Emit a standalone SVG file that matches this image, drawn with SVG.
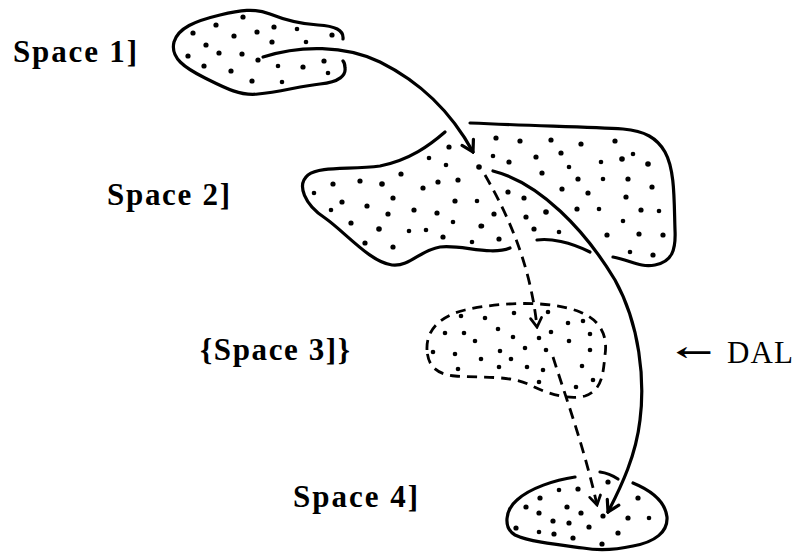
<svg xmlns="http://www.w3.org/2000/svg" width="799" height="552" viewBox="0 0 799 552">
<style>
.ol{fill:none;stroke:#000;stroke-width:3.2;stroke-linecap:round;stroke-linejoin:round}
.dl{fill:none;stroke:#000;stroke-width:2.8;stroke-dasharray:10 7;stroke-linecap:butt}
.ar{fill:none;stroke:#000;stroke-width:3.2;stroke-linecap:round}
.ad{fill:none;stroke:#000;stroke-width:2.8;stroke-dasharray:11 7}
.lbl{font-family:"Liberation Serif","Times New Roman",serif;font-size:31px;font-weight:bold;fill:#000}
.dots circle{fill:#000}
</style>
<defs>
<marker id="head" markerUnits="userSpaceOnUse" viewBox="-13 -9 15 18" refX="0" refY="0" markerWidth="15" markerHeight="18" orient="auto">
<path d="M-11,-6.5 L0,0 L-11,6.5" fill="none" stroke="#000" stroke-width="3.2" stroke-linejoin="miter" stroke-linecap="round"/>
</marker>
<marker id="headd" markerUnits="userSpaceOnUse" viewBox="-12 -8 14 16" refX="0" refY="0" markerWidth="14" markerHeight="16" orient="auto">
<path d="M-9,-5.5 L0,0 L-9,5.5" fill="none" stroke="#000" stroke-width="2.8" stroke-linejoin="miter" stroke-linecap="round"/>
</marker>
</defs>
<rect width="799" height="552" fill="#fff"/>

<g id="space1">
<path class="ol" d="M343,39 C344,30 335,26 318,25 C300,24 285,20 270,14 C255,8 240,10 220,15 C195,21 178,28 174,42 C170,58 185,68 205,78 C225,88 240,96 258,94 C280,92 300,86 320,84 C340,82 346,75 345,68 C345,64 344,62 343,61"/>
<g class="dots">
<circle cx="216" cy="25" r="2.6"/><circle cx="243" cy="17" r="2.6"/><circle cx="193" cy="33" r="2.6"/><circle cx="234" cy="36" r="2.6"/><circle cx="257" cy="32" r="2.6"/><circle cx="274" cy="27" r="2.6"/><circle cx="297" cy="29" r="2.3"/><circle cx="332" cy="35" r="2.6"/><circle cx="206" cy="45" r="2.6"/><circle cx="272" cy="42" r="2.6"/><circle cx="306" cy="42" r="2.3"/><circle cx="188" cy="56" r="2.6"/><circle cx="219" cy="53" r="2.6"/><circle cx="242" cy="54" r="2.6"/><circle cx="258" cy="60" r="2.6"/><circle cx="278" cy="66" r="2.3"/><circle cx="303" cy="67" r="2.6"/><circle cx="324" cy="61" r="2.6"/><circle cx="328" cy="73" r="2.3"/><circle cx="204" cy="66" r="2.6"/><circle cx="231" cy="71" r="2.6"/><circle cx="252" cy="81" r="2.6"/><circle cx="282" cy="82" r="2.3"/>
</g>
<text class="lbl" x="13" y="62" textLength="124" lengthAdjust="spacing">Space 1]</text>
</g>

<g id="space2">
<path class="ol" d="M445,132 C430,145 410,160 380,166 C350,170 320,166 308,175 C296,185 305,205 325,218 C345,232 370,262 392,265 C410,267 420,250 440,247 C460,244 490,256 510,248"/>
<path class="ol" d="M537,240 C550,238 570,242 590,252"/>
<path class="ol" d="M613,257 C630,260 640,268 655,265 C672,262 676,250 675,230 C674,200 675,170 665,152 C657,138 645,131 623,129 C590,127 540,126 470,123"/>
<g class="dots">
<circle cx="449" cy="147" r="2.6"/><circle cx="429" cy="158" r="2.3"/><circle cx="446" cy="165" r="2.3"/><circle cx="479" cy="167" r="2.8"/><circle cx="401" cy="174" r="2.6"/><circle cx="438" cy="182" r="2.6"/><circle cx="458" cy="180" r="2.6"/><circle cx="333" cy="184" r="2.6"/><circle cx="360" cy="181" r="2.6"/><circle cx="382" cy="184" r="2.8"/><circle cx="314" cy="193" r="2.3"/><circle cx="423" cy="188" r="2.6"/><circle cx="393" cy="198" r="2.6"/><circle cx="342" cy="202" r="2.6"/><circle cx="455" cy="201" r="2.6"/><circle cx="477" cy="201" r="2.3"/><circle cx="367" cy="206" r="2.6"/><circle cx="331" cy="210" r="2.3"/><circle cx="414" cy="210" r="2.6"/><circle cx="437" cy="213" r="2.6"/><circle cx="388" cy="214" r="2.6"/><circle cx="351" cy="223" r="2.6"/><circle cx="453" cy="222" r="2.3"/><circle cx="481" cy="226" r="2.6"/><circle cx="379" cy="229" r="2.8"/><circle cx="409" cy="231" r="2.3"/><circle cx="426" cy="230" r="2.3"/><circle cx="443" cy="237" r="2.6"/><circle cx="365" cy="243" r="2.6"/><circle cx="472" cy="242" r="2.3"/><circle cx="393" cy="247" r="2.6"/>
<circle cx="496" cy="138" r="2.6"/><circle cx="520" cy="141" r="2.6"/><circle cx="551" cy="140" r="2.6"/><circle cx="581" cy="144" r="2.6"/><circle cx="615" cy="141" r="2.6"/><circle cx="493" cy="156" r="2.3"/><circle cx="509" cy="162" r="2.6"/><circle cx="536" cy="157" r="2.6"/><circle cx="561" cy="153" r="2.6"/><circle cx="633" cy="154" r="2.3"/><circle cx="622" cy="159" r="2.8"/><circle cx="648" cy="164" r="2.8"/><circle cx="601" cy="162" r="2.3"/><circle cx="569" cy="167" r="2.3"/><circle cx="542" cy="173" r="2.6"/><circle cx="578" cy="179" r="2.6"/><circle cx="603" cy="179" r="2.3"/><circle cx="628" cy="179" r="2.6"/><circle cx="508" cy="192" r="2.6"/><circle cx="524" cy="198" r="2.6"/><circle cx="562" cy="189" r="2.6"/><circle cx="588" cy="193" r="2.6"/><circle cx="652" cy="187" r="2.6"/><circle cx="626" cy="197" r="2.6"/><circle cx="577" cy="209" r="2.6"/><circle cx="599" cy="209" r="2.3"/><circle cx="641" cy="210" r="2.6"/><circle cx="659" cy="211" r="2.3"/><circle cx="546" cy="212" r="2.8"/><circle cx="494" cy="214" r="2.6"/><circle cx="526" cy="217" r="2.6"/><circle cx="623" cy="221" r="2.3"/><circle cx="482" cy="226" r="2.3"/><circle cx="534" cy="229" r="2.6"/><circle cx="559" cy="232" r="2.3"/><circle cx="607" cy="235" r="2.6"/><circle cx="639" cy="234" r="2.6"/><circle cx="663" cy="235" r="2.6"/><circle cx="499" cy="239" r="2.6"/><circle cx="630" cy="252" r="2.3"/><circle cx="653" cy="255" r="2.6"/>
</g>
<text class="lbl" x="107" y="205" textLength="123" lengthAdjust="spacing">Space 2]</text>
</g>

<g id="space3">
<path class="dl" d="M427,350 C426,330 440,316 465,310 C500,302 550,300 580,312 C600,320 608,335 605,355 C603,375 602,390 585,396 C570,400 550,395 530,385 C510,375 480,378 455,376 C435,374 428,365 427,350 Z"/>
<g class="dots">
<circle cx="461" cy="316" r="2.3"/><circle cx="485" cy="318" r="2.3"/><circle cx="514" cy="313" r="2.3"/><circle cx="548" cy="312" r="2.3"/><circle cx="568" cy="323" r="2.3"/><circle cx="583" cy="321" r="2.3"/><circle cx="445" cy="333" r="2.3"/><circle cx="464" cy="333" r="2.3"/><circle cx="498" cy="329" r="2.3"/><circle cx="513" cy="337" r="2.3"/><circle cx="551" cy="332" r="2.3"/><circle cx="475" cy="341" r="2.3"/><circle cx="539" cy="338" r="2.3"/><circle cx="569" cy="341" r="2.3"/><circle cx="590" cy="334" r="2.3"/><circle cx="433" cy="352" r="2.3"/><circle cx="455" cy="354" r="2.3"/><circle cx="500" cy="351" r="2.3"/><circle cx="525" cy="348" r="2.3"/><circle cx="546" cy="350" r="2.3"/><circle cx="481" cy="359" r="2.3"/><circle cx="511" cy="359" r="2.3"/><circle cx="590" cy="350" r="2.3"/><circle cx="458" cy="369" r="2.3"/><circle cx="499" cy="367" r="2.3"/><circle cx="527" cy="367" r="2.3"/><circle cx="543" cy="370" r="2.3"/><circle cx="582" cy="366" r="2.3"/><circle cx="539" cy="382" r="2.3"/><circle cx="593" cy="380" r="2.3"/><circle cx="576" cy="387" r="2.3"/>
</g>
<text class="lbl" x="200" y="360" textLength="150" lengthAdjust="spacing">{Space 3]}</text>
</g>

<g id="space4">
<path class="ol" d="M633,483 C650,490 665,500 667,517 C668,532 655,542 633,546 C615,550 600,551 583,548 C560,545 530,542 515,535 C503,528 505,510 517,500 C530,488 555,480 575,477"/>
<path class="ol" d="M600,472 C608,473 612,475 618,479"/>
<g class="dots">
<circle cx="559" cy="490" r="2.3"/><circle cx="578" cy="489" r="2.6"/><circle cx="608" cy="482" r="2.6"/><circle cx="540" cy="498" r="2.6"/><circle cx="638" cy="498" r="2.6"/><circle cx="526" cy="507" r="2.6"/><circle cx="567" cy="507" r="2.6"/><circle cx="539" cy="513" r="2.6"/><circle cx="581" cy="513" r="2.6"/><circle cx="603" cy="516" r="2.6"/><circle cx="628" cy="518" r="2.6"/><circle cx="649" cy="518" r="2.3"/><circle cx="553" cy="521" r="2.6"/><circle cx="569" cy="523" r="2.6"/><circle cx="516" cy="528" r="2.6"/><circle cx="589" cy="527" r="2.6"/><circle cx="539" cy="532" r="2.3"/><circle cx="554" cy="534" r="2.6"/><circle cx="618" cy="533" r="2.6"/><circle cx="573" cy="538" r="2.6"/><circle cx="602" cy="544" r="2.6"/>
</g>
<text class="lbl" x="293" y="507" textLength="125" lengthAdjust="spacing">Space 4]</text>
</g>

<g id="connectors">
<path class="ar" d="M263,57 C300,45 345,45 380,62 C420,82 450,110 473,152" marker-end="url(#head)"/>
<path class="ar" d="M493,171 C540,183 585,230 615,280 C640,325 645,380 640,420 C636,455 622,485 608,512" marker-end="url(#head)"/>
<path class="ad" d="M485,175 C505,210 530,260 537,327" marker-end="url(#headd)"/>
<path class="ad" d="M553,357 C565,395 585,450 597,505" marker-end="url(#headd)"/>
</g>

<g id="dal">
<text x="675" y="361" textLength="38" lengthAdjust="spacingAndGlyphs" style="font-family:'DejaVu Serif','DejaVu Sans',serif;font-size:26px;font-weight:bold;fill:#000">←</text>
<text x="727" y="363" textLength="66" lengthAdjust="spacing" style="font-family:'Liberation Serif','Times New Roman',serif;font-size:31px;fill:#000">DAL</text>
</g>
</svg>
